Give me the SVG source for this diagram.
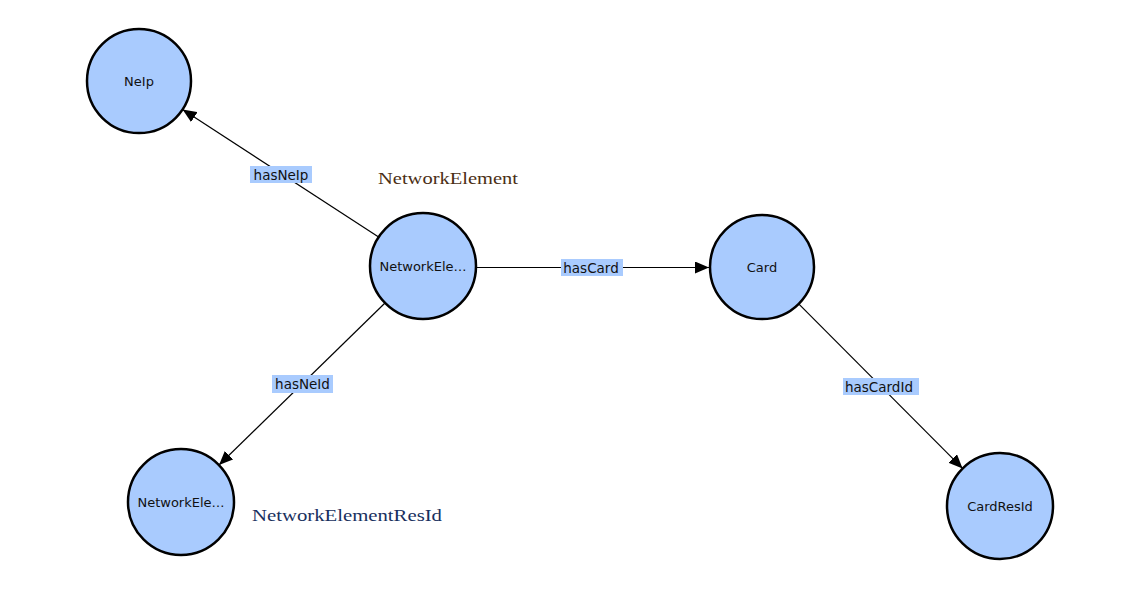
<svg xmlns="http://www.w3.org/2000/svg" width="1130" height="589" viewBox="0 0 1130 589">
  <style>
    .node circle { fill: #a9cbfe; stroke: #000; stroke-width: 2.5; }
    .node text { font-family: "DejaVu Sans", "Liberation Sans", sans-serif; font-size: 13px; fill: #111; text-anchor: middle; dominant-baseline: central; }
    .edge line { stroke: #000; stroke-width: 1.2; }
    .lbl rect { fill: #a9cbfe; }
    .lbl text { font-family: "DejaVu Sans", "Liberation Sans", sans-serif; font-size: 13.5px; fill: #111; text-anchor: middle; dominant-baseline: central; }
    .cap { font-family: "Liberation Serif", serif; font-size: 17px; }
  </style>
  <defs>
    <marker id="arrow" markerWidth="14" markerHeight="12" refX="14" refY="6" orient="auto" markerUnits="userSpaceOnUse">
      <path d="M0,0 L14,6 L0,12 Z" fill="#000"/>
    </marker>
  </defs>
  <rect width="1130" height="589" fill="#fff"/>

  <g id="connectors">
    <g class="edge">
      <line x1="378.6" y1="237.1" x2="182.6" y2="109.4" marker-end="url(#arrow)"/>
      <line x1="476" y1="267.5" x2="709" y2="267.5" marker-end="url(#arrow)"/>
      <line x1="385" y1="303" x2="219" y2="465" marker-end="url(#arrow)"/>
      <line x1="798.7" y1="303.9" x2="962.6" y2="468.4" marker-end="url(#arrow)"/>
    </g>
    <g class="lbl">
      <rect x="250" y="166" width="62" height="17"/>
      <text x="281" y="174.5">hasNeIp</text>
      <rect x="561" y="259" width="62" height="17"/>
      <text x="591" y="267.5">hasCard</text>
      <rect x="272" y="375" width="61" height="18"/>
      <text x="302.5" y="384">hasNeId</text>
      <rect x="843" y="378" width="76" height="17"/>
      <text x="879" y="386.5">hasCardId</text>
    </g>
  </g>

  <g id="node-neip" class="node">
    <circle cx="139" cy="81" r="52"/>
    <text x="139" y="81">NeIp</text>
  </g>
  <g id="node-networkelement" class="node">
    <circle cx="423" cy="266" r="53"/>
    <text x="423" y="266">NetworkEle…</text>
  </g>
  <g id="node-card" class="node">
    <circle cx="762" cy="267" r="52"/>
    <text x="762" y="267">Card</text>
  </g>
  <g id="node-networkelementresid" class="node">
    <circle cx="181" cy="502" r="53"/>
    <text x="181" y="502">NetworkEle…</text>
  </g>
  <g id="node-cardresid" class="node">
    <circle cx="1000" cy="506" r="53"/>
    <text x="1000" y="506">CardResId</text>
  </g>

  <g id="captions">
    <text class="cap" x="378" y="184" textLength="140" lengthAdjust="spacingAndGlyphs" fill="#4a2e14">NetworkElement</text>
    <text class="cap" x="252" y="521" textLength="190" lengthAdjust="spacingAndGlyphs" fill="#18305e">NetworkElementResId</text>
  </g>
</svg>
